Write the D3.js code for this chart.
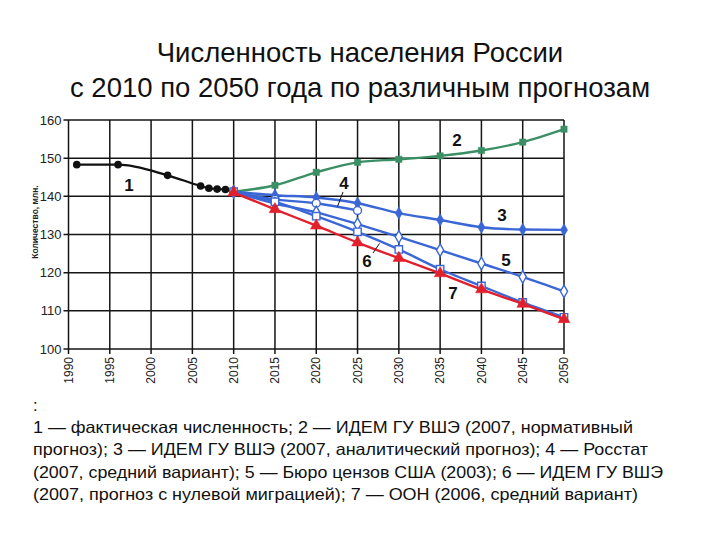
<!DOCTYPE html>
<html><head><meta charset="utf-8">
<script src="https://cdn.jsdelivr.net/npm/d3@7"></script>
<style>body{margin:0;background:#fff}svg{display:block}</style>
</head><body>
<svg id="c" width="720" height="540"></svg>
<script>
const titleLines = ["Численность населения России", "с 2010 по 2050 года по различным прогнозам"];
const yLabel = "Количество, млн.";
const legendLines = [":",
 "1 — фактическая численность; 2 — ИДЕМ ГУ ВШЭ (2007, нормативный",
 "прогноз); 3 — ИДЕМ ГУ ВШЭ (2007, аналитический прогноз); 4 — Росстат",
 "(2007, средний вариант); 5 — Бюро цензов США (2003); 6 — ИДЕМ ГУ ВШЭ",
 "(2007, прогноз с нулевой миграцией); 7 — ООН (2006, средний вариант)"];
const xTicks = [1990,1995,2000,2005,2010,2015,2020,2025,2030,2035,2040,2045,2050];
const yTicks = [100,110,120,130,140,150,160];

const actualYears = [1991,1996,2002,2006,2007,2008,2009,2010];
const actualValues = [148.3,148.3,145.5,142.7,142.1,141.9,141.8,141.2];
const forecastYears = [2010,2015,2020,2025,2030,2035,2040,2045,2050];
const s2 = [141.2,142.9,146.3,148.9,149.7,150.6,152.0,154.2,157.6];
const s3 = [141.2,140.3,139.7,138.2,135.6,133.8,131.9,131.3,131.2];
const s4Years = [2010,2015,2020,2025];
const s4 = [141.2,139.2,138.2,136.3];
const s5 = [141.2,138.1,135.8,132.7,129.4,125.9,122.4,118.9,115.1];
const s6 = [141.2,138.6,134.8,130.7,126.1,120.9,116.5,112.2,108.3];
const s7 = [141.0,136.6,132.3,127.9,123.8,119.8,115.6,111.8,107.8];
const seriesLabels = ["1","2","3","4","5","6","7"];

const svg = d3.select("#c");
const x = d3.scaleLinear().domain([1990,2050]).range([68.5,564]);
const y = d3.scaleLinear().domain([100,160]).range([349,120]);
const GREEN="#3a8f64", BLUE="#3b67d6", RED="#e2202c";
const FONT = "Liberation Sans, Arial, sans-serif";

// title
svg.selectAll("text.title").data(titleLines).enter().append("text")
  .attr("x",360).attr("y",(d,i)=>62+i*35).attr("text-anchor","middle")
  .attr("font-family",FONT).attr("font-size",27.5).attr("fill","#111").text(d=>d);

// grid
const g = svg.append("g");
g.selectAll("line.v").data(xTicks).enter().append("line")
  .attr("x1",d=>x(d)).attr("x2",d=>x(d)).attr("y1",y(160)).attr("y2",y(100)+5)
  .attr("stroke","#151515").attr("stroke-width",1.5);
g.selectAll("line.h").data(yTicks).enter().append("line")
  .attr("y1",d=>y(d)).attr("y2",d=>y(d)).attr("x1",x(1990)-5).attr("x2",x(2050))
  .attr("stroke","#151515").attr("stroke-width",1.5);

// y tick labels
g.selectAll("text.yt").data(yTicks).enter().append("text")
  .attr("x",61.5).attr("y",d=>y(d)).attr("dy","0.35em").attr("text-anchor","end")
  .attr("font-family",FONT).attr("font-size",13).attr("fill","#222").text(d=>d);
// x tick labels
g.selectAll("text.xt").data(xTicks).enter().append("text")
  .attr("transform",d=>`translate(${x(d)},357) rotate(-90)`).attr("dy","0.35em").attr("text-anchor","end")
  .attr("font-family",FONT).attr("font-size",12).attr("fill","#222").text(d=>d);
// y label
svg.append("text").attr("transform","translate(38,222) rotate(-90)").attr("text-anchor","middle")
  .attr("font-family",FONT).attr("font-size",8.5).attr("font-weight","bold").attr("fill","#222").text(yLabel);

const line = d3.line().x(d=>x(d[0])).y(d=>y(d[1])).curve(d3.curveMonotoneX);
const zip = (xs,vs)=>xs.map((v,i)=>[v,vs[i]]);

const series = [
  {pts:zip(forecastYears,s2), color:GREEN, marker:"square", fill:GREEN, size:40},
  {pts:zip(forecastYears,s3), color:BLUE, marker:"diamond", fill:BLUE, size:45},
  {pts:zip(s4Years,s4), color:BLUE, marker:"circle", fill:"#fff", size:50},
  {pts:zip(forecastYears,s5), color:BLUE, marker:"diamond", fill:"#fff", size:45},
  {pts:zip(forecastYears,s6), color:BLUE, marker:"square", fill:"#fff", size:55},
  {pts:zip(forecastYears,s7), color:RED, marker:"triangle", fill:RED, size:60}
];
const symType = {square:d3.symbolSquare, diamond:d3.symbolDiamond, circle:d3.symbolCircle, triangle:d3.symbolTriangle};

// actual line
const act = zip(actualYears,actualValues);
svg.append("path").attr("d",line(act)).attr("fill","none").attr("stroke","#111").attr("stroke-width",2.2);
svg.selectAll("circle.act").data(act.slice(0,-1)).enter().append("circle")
  .attr("cx",d=>x(d[0])).attr("cy",d=>y(d[1])).attr("r",3.8).attr("fill","#111");

series.forEach(s=>{
  svg.append("path").attr("d",line(s.pts)).attr("fill","none").attr("stroke",s.color).attr("stroke-width",2.4);
  svg.append("g").selectAll("path").data(s.pts).enter().append("path")
    .attr("transform",d=>`translate(${x(d[0])},${y(d[1])})`)
    .attr("d",d3.symbol().type(symType[s.marker]).size(s.size))
    .attr("fill",s.fill).attr("stroke",s.color).attr("stroke-width",s.fill==="#fff"?1.4:0.5);
});

// series number labels
const lab = [[129,185],[457,140],[502,215],[344,183],[506,260],[367,261],[453,293]];
svg.selectAll("text.lab").data(seriesLabels).enter().append("text")
  .attr("x",(d,i)=>lab[i][0]).attr("y",(d,i)=>lab[i][1]).attr("dy","0.35em").attr("text-anchor","middle")
  .attr("font-family",FONT).attr("font-size",17).attr("font-weight","bold").attr("fill","#111").text(d=>d);
// leader lines
svg.append("line").attr("x1",343).attr("y1",192).attr("x2",337.5).attr("y2",206.5).attr("stroke","#111").attr("stroke-width",1);
svg.append("line").attr("x1",373).attr("y1",253).attr("x2",379.5).attr("y2",243.5).attr("stroke","#111").attr("stroke-width",1);

// legend
const legW = [null,600,615,630,605];
svg.selectAll("text.leg").data(legendLines).enter().append("text")
  .attr("x",33).attr("y",(d,i)=>411+i*22.2)
  .attr("font-family",FONT).attr("font-size",16.5).attr("fill","#111")
  .each(function(d,i){ if(legW[i]) d3.select(this).attr("textLength",legW[i]).attr("lengthAdjust","spacingAndGlyphs"); })
  .text(d=>d);
</script>
</body></html>
